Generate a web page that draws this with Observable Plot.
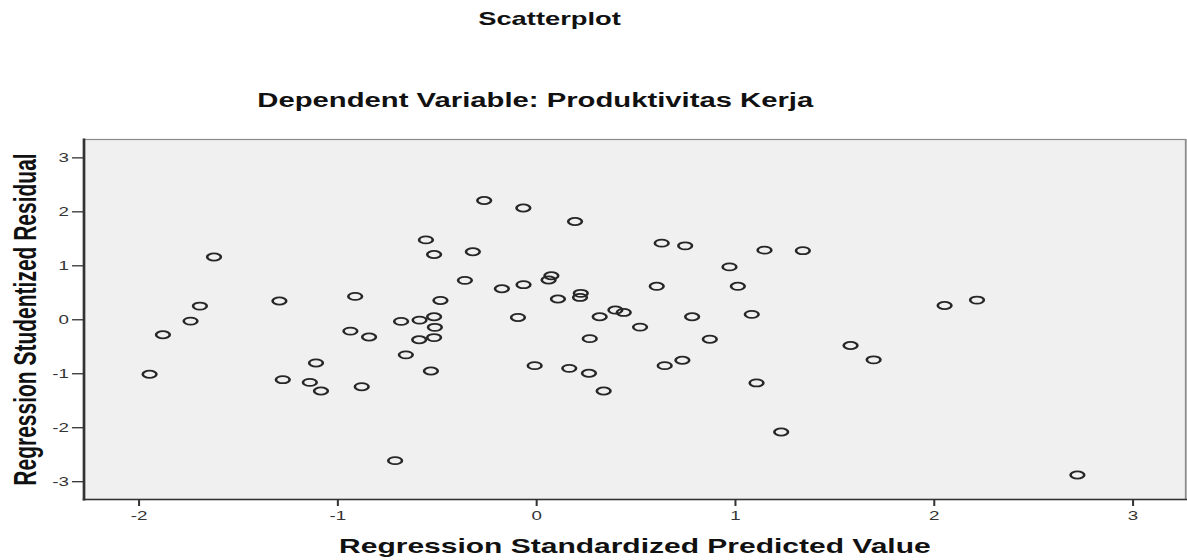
<!DOCTYPE html>
<html>
<head>
<meta charset="utf-8">
<script src="https://cdn.jsdelivr.net/npm/d3@7"></script>
<script src="https://cdn.jsdelivr.net/npm/@observablehq/plot@0.6"></script>
<style>
  html, body { margin: 0; padding: 0; background: #fff; }
  #wrap { position: relative; width: 1187px; height: 560px; overflow: hidden; }
  .ttl { position: absolute; white-space: nowrap; font-family: "Liberation Sans", Arial, sans-serif; font-weight: bold; color: #111; transform-origin: 50% 0; }
  #chart { position: absolute; left: 0; top: 125px; }
</style>
</head>
<body>
<div id="wrap">
  <div id="title" class="ttl"></div>
  <div id="subtitle" class="ttl"></div>
  <div id="chart"></div>
</div>
<script>
const titleText = "Scatterplot";
const subtitleText = "Dependent Variable: Produktivitas Kerja";
const xLabel = "Regression Standardized Predicted Value";
const yLabel = "Regression Studentized Residual";
const xTicks = [-2, -1, 0, 1, 2, 3];
const yTicks = [-3, -2, -1, 0, 1, 2, 3];
const xDomain = [-2.277, 3.265];
const yDomain = [-3.33, 3.34];

// Regression Standardized Predicted Value
const predicted = [
  -1.947, -1.880, -1.741, -1.694, -1.623, -1.294, -1.277, -1.141, -1.110, -1.085,
  -0.937, -0.913, -0.880, -0.843, -0.712, -0.682, -0.658, -0.591, -0.589, -0.557,
  -0.532, -0.516, -0.516, -0.512, -0.516, -0.484, -0.361, -0.321, -0.264, -0.175,
  -0.094, -0.067, -0.066, -0.010, 0.060, 0.074, 0.107, 0.164, 0.193, 0.218,
  0.222, 0.263, 0.267, 0.317, 0.337, 0.396, 0.438, 0.520, 0.604, 0.629,
  0.644, 0.733, 0.747, 0.782, 0.871, 0.970, 1.012, 1.082, 1.106, 1.146,
  1.230, 1.339, 1.579, 1.695, 2.052, 2.215, 2.720
];
// Regression Studentized Residual
const residual = [
  -1.01, -0.278, -0.025, 0.254, 1.163, 0.347, -1.11, -1.16, -0.80, -1.32,
  -0.21, 0.433, -1.24, -0.32, -2.61, -0.03, -0.65, -0.37, -0.006, 1.48,
  -0.95, 1.21, 0.056, -0.14, -0.33, 0.358, 0.73, 1.26, 2.21, 0.575,
  0.043, 2.07, 0.65, -0.85, 0.736, 0.816, 0.384, -0.90, 1.82, 0.414,
  0.49, -0.99, -0.35, 0.056, -1.32, 0.18, 0.136, -0.136, 0.62, 1.42,
  -0.85, -0.75, 1.37, 0.056, -0.36, 0.98, 0.62, 0.10, -1.17, 1.29,
  -2.08, 1.28, -0.477, -0.742, 0.265, 0.365, -2.876
];

const data = predicted.map((x, i) => ({x, y: residual[i]}));

// The reference image is horizontally stretched; draw in a narrower
// coordinate system and stretch the SVG to the full width.
const K = 1.5;
const SCREEN_W = 1187, SVG_H = 435;
const W = SCREEN_W / K;

const ellipse = {
  draw(context, size) {
    const r = Math.sqrt(size / Math.PI);
    const rx = r * 1.14, ry = r * 0.89, c = 0.5523;
    context.moveTo(rx, 0);
    context.bezierCurveTo(rx, c * ry, c * rx, ry, 0, ry);
    context.bezierCurveTo(-c * rx, ry, -rx, c * ry, -rx, 0);
    context.bezierCurveTo(-rx, -c * ry, -c * rx, -ry, 0, -ry);
    context.bezierCurveTo(c * rx, -ry, rx, -c * ry, rx, 0);
    context.closePath();
  }
};

const fmt = d => String(d);

const svg = Plot.plot({
  width: W,
  height: SVG_H,
  marginLeft: 55.5,
  marginRight: W - 790,
  marginTop: 14,
  marginBottom: 61,
  style: {fontFamily: "'Liberation Sans', Arial, sans-serif", fontSize: "12.5px", color: "#333", background: "transparent"},
  x: {domain: xDomain},
  y: {domain: yDomain},
  marks: [
    Plot.frame({fill: "#f0f0f0", stroke: "#8a8a8a", strokeWidth: 1.2}),
    Plot.frame({anchor: "left", stroke: "#333", strokeWidth: 1.8}),
    Plot.frame({anchor: "bottom", stroke: "#333", strokeWidth: 1.7}),
    Plot.axisX({ticks: xTicks, tickFormat: fmt, tickSize: 7, tickPadding: 5, strokeWidth: 1.35, stroke: "#333", fill: "#333", label: null}),
    Plot.axisY({ticks: yTicks, tickFormat: fmt, tickSize: 7.5, tickPadding: 2.5, strokeWidth: 1.3, stroke: "#333", fill: "#333", label: null}),
    Plot.dot(data, {x: "x", y: "y", symbol: ellipse, r: 4.0, stroke: "#262626", strokeWidth: 1.75, fill: "none"}),
    Plot.text([xLabel], {frameAnchor: "bottom", dy: 53, lineAnchor: "bottom", textAnchor: "middle", fontSize: 20, fontWeight: "bold", fill: "#111"}),
    Plot.text([yLabel], {frameAnchor: "left", dx: -32.2, rotate: -90, lineAnchor: "bottom", textAnchor: "middle", fontSize: 21, fontWeight: "bold", fill: "#111"})
  ]
});

svg.setAttribute("viewBox", `0 0 ${W} ${SVG_H}`);
svg.setAttribute("preserveAspectRatio", "none");
svg.style.width = SCREEN_W + "px";
svg.style.height = SVG_H + "px";
svg.style.maxWidth = "none";
document.getElementById("chart").appendChild(svg);

function placeTitle(id, text, centerX, baselineY, size) {
  const el = document.getElementById(id);
  el.textContent = text;
  el.style.fontSize = size + "px";
  el.style.lineHeight = size + "px";
  el.style.top = (baselineY - 0.8465 * size) + "px";
  const w = el.getBoundingClientRect().width;
  el.style.left = (centerX - w / 2) + "px";
  el.style.transform = `scaleX(${K})`;
}
placeTitle("title", titleText, 549.5, 25, 18.2);
placeTitle("subtitle", subtitleText, 535, 108, 19.5);
</script>
</body>
</html>
